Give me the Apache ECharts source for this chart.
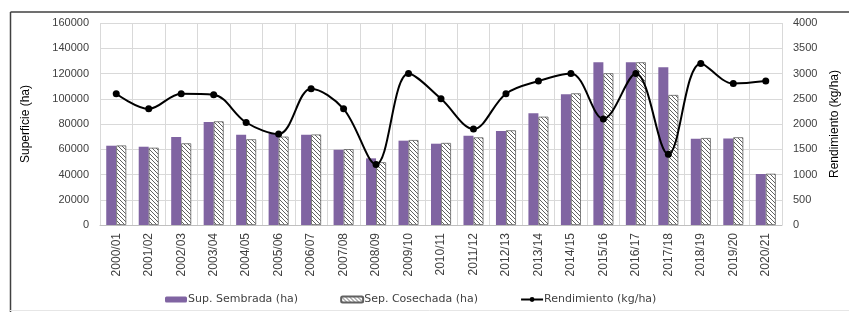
<!DOCTYPE html>
<html>
<head>
<meta charset="utf-8">
<script src="https://cdn.jsdelivr.net/npm/echarts@6/dist/echarts.min.js"></script>
<style>
html,body{margin:0;padding:0;background:#fff;}
#chart{width:849px;height:312px;}
</style>
</head>
<body>
<div id="chart"></div>
<script>
const categories = ['2000/01','2001/02','2002/03','2003/04','2004/05','2005/06','2006/07','2007/08','2008/09','2009/10','2010/11','2011/12','2012/13','2013/14','2014/15','2015/16','2016/17','2017/18','2018/19','2019/20','2020/21'];
const supSembrada = [62800,62000,69700,81600,71500,72600,71500,59600,52800,66800,64400,70700,74500,88500,103500,128900,128900,124900,68400,68600,40400];
const supCosechada = [63000,61200,64700,82100,67900,70000,71700,60100,49700,67300,65000,69400,75000,85800,104300,120200,128900,103000,68900,69500,40600];
const rendimiento = [2600,2300,2600,2580,2030,1800,2700,2300,1200,3000,2500,1900,2600,2850,3000,2100,3000,1400,3200,2800,2850];
const leftTicks = {min:0, max:160000, interval:20000};
const rightTicks = {min:0, max:4000, interval:500};

function hatch(){
  const c = document.createElement('canvas');
  c.width = 4; c.height = 4;
  const ctx = c.getContext('2d');
  ctx.fillStyle = '#ffffff';
  ctx.fillRect(0,0,4,4);
  ctx.strokeStyle = '#606060';
  ctx.lineWidth = 1;
  for (const x of [-4,0,4]) {
    ctx.beginPath(); ctx.moveTo(x,0); ctx.lineTo(x+4,4); ctx.stroke();
  }
  return c;
}
const pat = {image: hatch(), repeat: 'repeat'};

const chart = echarts.init(document.getElementById('chart'));
const axisFont = {fontFamily:'Liberation Sans', fontSize:11, color:'#404040', formatter:v=>String(v)};
chart.setOption({
  animation:false,
  graphic:[
    {type:'line', shape:{x1:10.5,y1:12,x2:849,y2:12}, style:{stroke:'#404040',lineWidth:1.5}},
    {type:'line', shape:{x1:10.5,y1:12,x2:10.5,y2:312}, style:{stroke:'#404040',lineWidth:1.5}},
    {type:'line', shape:{x1:10,y1:310.5,x2:849,y2:310.5}, style:{stroke:'#e6e6e6',lineWidth:1}}
  ],
  grid:{left:100, right:63, top:23, bottom:87},
  legend:{
    left:160, top:289, itemGap:42, itemWidth:22, itemHeight:6,
    textStyle:{fontFamily:'DejaVu Sans', fontSize:11, color:'#404040', padding:[0,0,0,-4]},
    data:['Sup. Sembrada (ha)','Sep. Cosechada (ha)','Rendimiento (kg/ha)']
  },
  xAxis:{
    type:'category', data:categories,
    axisLine:{lineStyle:{color:'#bfbfbf'}},
    axisTick:{show:false},
    splitLine:{show:true, lineStyle:{color:'#d9d9d9'}},
    axisLabel:{rotate:90, margin:8, fontFamily:'Liberation Sans', fontSize:12, color:'#404040'}
  },
  yAxis:[
    {type:'value', min:leftTicks.min, max:leftTicks.max, interval:leftTicks.interval,
     name:'Superficie (ha)', nameLocation:'middle', nameGap:68, nameRotate:90,
     nameTextStyle:{fontFamily:'Liberation Sans', fontSize:12, color:'#000'},
     axisLine:{show:false}, axisTick:{show:false},
     splitLine:{lineStyle:{color:'#d9d9d9'}},
     axisLabel:Object.assign({margin:11}, axisFont)},
    {type:'value', min:rightTicks.min, max:rightTicks.max, interval:rightTicks.interval,
     name:'Rendimiento (kg/ha)', nameLocation:'middle', nameGap:47, nameRotate:90,
     nameTextStyle:{fontFamily:'Liberation Sans', fontSize:12, color:'#000'},
     axisLine:{show:false}, axisTick:{show:false},
     splitLine:{show:false},
     axisLabel:Object.assign({margin:11}, axisFont)}
  ],
  series:[
    {name:'Sup. Sembrada (ha)', type:'bar', data:supSembrada, barWidth:10, barGap:'0%',
     itemStyle:{color:'#8064a2'}},
    {name:'Sep. Cosechada (ha)', type:'bar', data:supCosechada, barWidth:10, barGap:'0%',
     itemStyle:{color:pat, borderColor:'#606060', borderWidth:0.8}},
    {name:'Rendimiento (kg/ha)', type:'line', yAxisIndex:1, data:rendimiento, smooth:0.35,
     symbol:'circle', symbolSize:7,
     lineStyle:{color:'#000', width:2}, itemStyle:{color:'#000'}}
  ]
});
</script>
</body>
</html>
